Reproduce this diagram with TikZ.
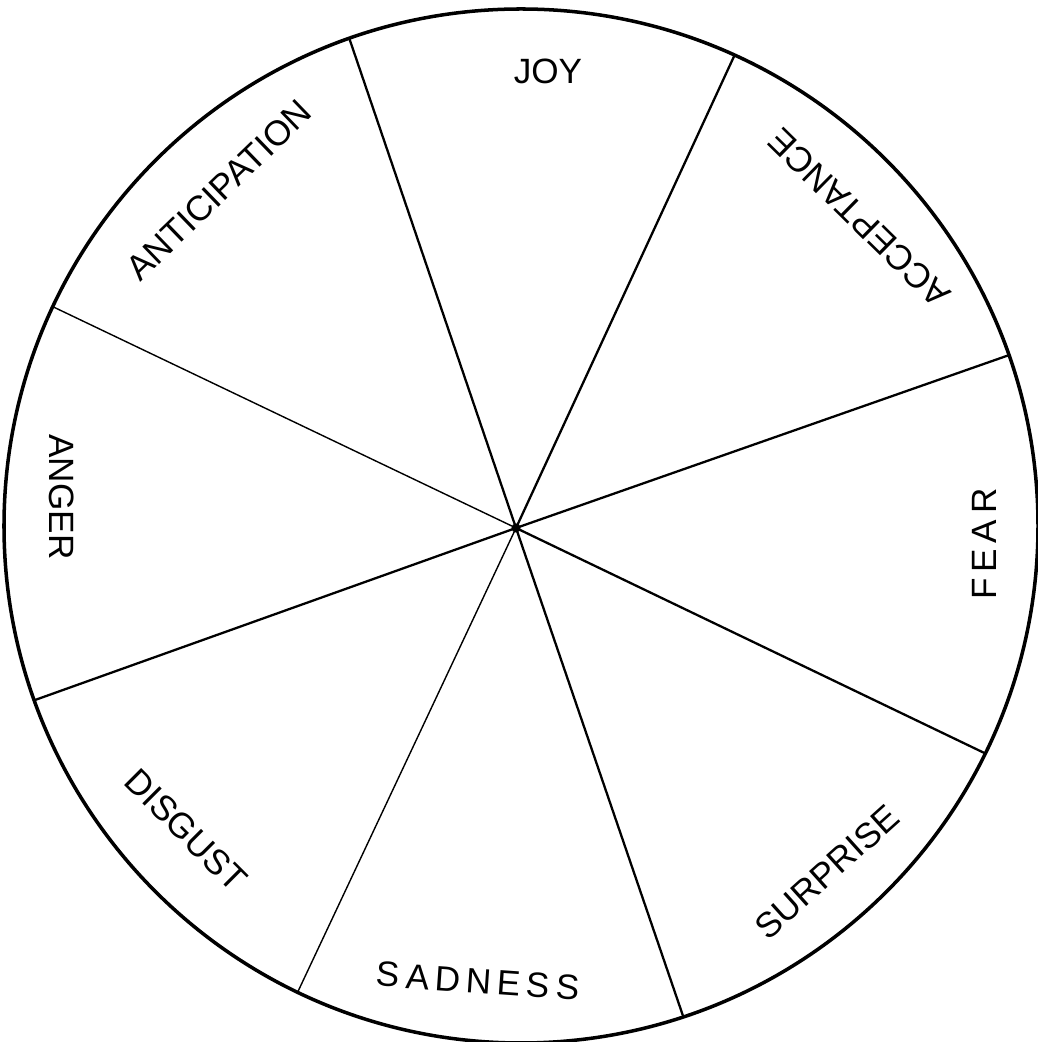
\documentclass[tikz,border=0pt]{standalone}
\usepackage{fontspec}
\setmainfont{Liberation Sans}
\usepackage{tikz}
\usetikzlibrary{calc}

\begin{document}
\begin{tikzpicture}[
  wheel/.style={draw, line width=2pt},
  spoke/.style={draw, line width=1.3pt},
  faint/.style={spoke, line width=0.8pt},
  emo/.style={font=\fontsize{20}{24}\selectfont, inner sep=0pt}
]
\useasboundingbox (0,0) rectangle (20.76,20.84);
\coordinate (o)   at (10.42,10.32);
\coordinate (hub) at (10.32,10.28);
\draw[wheel] (o) circle (10.34);
% spokes
\foreach \a in {109.4,65.6,19.3,-26.1,-71.7,199.7}
  \draw[spoke] (hub) -- ($(o)+(\a:10.34)$);
\foreach \a in {154.9,244.4}
  \draw[faint] (hub) -- ($(o)+(\a:10.34)$);
\fill (hub) circle (2.6pt);
% labels
\node[emo] (joy)  at (10.96,19.42) {JOY};
\node[emo, rotate=44] (anti) at (4.38,17.04) {ANTICIPATION};
\node[emo, rotate=135.5] (acc) at (17.18,16.48) {ACCEPTANCE};
\node[emo, rotate=-90] (anger) at (1.24,10.90) {ANGER};
\node[emo, rotate=90] (fear) at (19.68,9.96) {F\,E\,A\,R};
\node[emo, rotate=-45] (disg) at (3.72,4.24) {DISGUST};
\node[emo, rotate=-4] (sad) at (9.56,1.22) {S\,A\,D\,N\,E\,S\,S};
\node[emo, rotate=42] (surp) at (16.54,3.40) {SURPRISE};
\end{tikzpicture}
\end{document}
